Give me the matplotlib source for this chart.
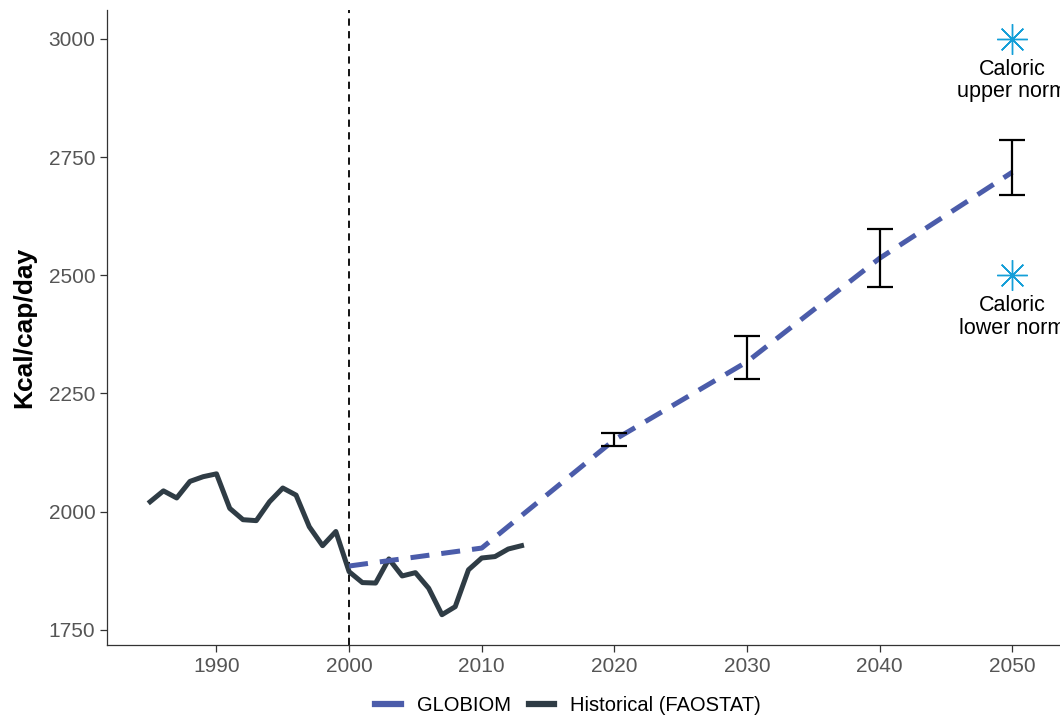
import matplotlib.pyplot as plt
from matplotlib.lines import Line2D

plt.rcParams['font.family'] = ['Liberation Sans', 'DejaVu Sans']

# historical supply (FAOSTAT)
hist_years = list(range(1985, 2014))
hist_kcal = [2021, 2044, 2029, 2064, 2074, 2080, 2007, 1983, 1981, 2021,
             2050, 2035, 1968, 1928, 1958, 1873, 1850, 1849, 1900, 1864,
             1871, 1838, 1782, 1799, 1877, 1902, 1905, 1921, 1928]

# GLOBIOM projection + spread
glob_years = [2000, 2010, 2020, 2030, 2040, 2050]
glob_kcal = [1885, 1923, 2152, 2317, 2536, 2718]
err_years = [2020, 2030, 2040, 2050]
err_low = [2139, 2280, 2476, 2670]
err_high = [2166, 2372, 2597, 2786]

# caloric norms
norm_year = 2050
norm_vals = [3000, 2500]
norm_labels = ["Caloric\nupper norm", "Caloric\nlower norm"]

c_glob = '#4b5caa'
c_hist = '#2f3c45'
c_norm = '#149fd8'

fig = plt.figure(figsize=(10.6, 7.18), dpi=100)
ax = fig.add_axes([0.101, 0.1017, 0.899, 0.8843])

ax.axvline(2000, color='black', lw=1.3, ls=(0, (4, 3)), zorder=1)

ax.plot(hist_years, hist_kcal, color=c_hist, lw=3.6, solid_joinstyle='round', zorder=2)
ax.plot(glob_years, glob_kcal, color=c_glob, lw=3.6, dashes=(3.8, 2.4), zorder=3)

mid = [(l + h) / 2 for l, h in zip(err_low, err_high)]
half = [(h - l) / 2 for l, h in zip(err_low, err_high)]
ax.errorbar(err_years, mid, yerr=half, fmt='none', ecolor='black',
            elinewidth=1.6, capsize=9.5, capthick=1.6, zorder=4)

for v, lab in zip(norm_vals, norm_labels):
    ax.plot([norm_year], [v], marker=(8, 2, 0), markersize=22, color=c_norm,
            markeredgewidth=1.0, ls='none', zorder=5)
    ax.text(norm_year, v - 42, lab, ha='center', va='top', fontsize=15.5,
            color='black', linespacing=1.1)

ax.set_xlim(1981.75, 2053.6)
ax.set_ylim(1718, 3061)
ax.set_xticks([1990, 2000, 2010, 2020, 2030, 2040, 2050])
ax.set_yticks([1750, 2000, 2250, 2500, 2750, 3000])
ax.tick_params(axis='both', colors='#333333', labelcolor='#555555',
               labelsize=15, length=5, width=0.9, direction='out')
for s in ['top', 'right']:
    ax.spines[s].set_visible(False)
for s in ['left', 'bottom']:
    ax.spines[s].set_color('#333333')
    ax.spines[s].set_linewidth(0.9)

ax.set_ylabel('Kcal/cap/day', fontsize=19, fontweight='bold', labelpad=9)

handles = [Line2D([0], [0], color=c_glob, lw=4.5),
           Line2D([0], [0], color=c_hist, lw=4.5)]
fig.legend(handles, ['GLOBIOM', 'Historical (FAOSTAT)'], loc='center',
           bbox_to_anchor=(0.536, 0.018), ncol=2, frameon=False, fontsize=14.5,
           handlelength=1.25, handletextpad=0.8, columnspacing=0.9)

fig.savefig('out.png', dpi=100)
